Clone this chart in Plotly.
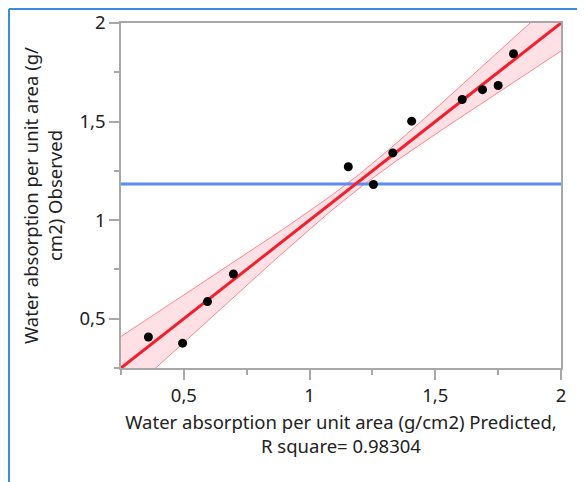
import numpy as np
import plotly.graph_objects as go

predicted = [0.359, 0.495, 0.594, 0.697, 1.154, 1.254, 1.331, 1.406, 1.607, 1.688, 1.750, 1.811]
observed = [0.407, 0.376, 0.587, 0.727, 1.271, 1.181, 1.341, 1.502, 1.612, 1.662, 1.683, 1.844]
tick_vals = [0.5, 1, 1.5, 2]
tick_text = ["0,5", "1", "1,5", "2"]
minor_vals = [0.25, 0.75, 1.25, 1.75]
axis_range = [0.25, 2.0]

# confidence-curve parameters (half-width at mean, asymptotic slope)
band_center_hw = 0.035
band_slope = 0.168

x_mean = float(np.mean(predicted))
y_mean = float(np.mean(observed))

xs = np.linspace(axis_range[0], axis_range[1], 200)
fit = xs.copy()
hw = np.sqrt(band_center_hw ** 2 + band_slope ** 2 * (xs - x_mean) ** 2)
upper = fit + hw
lower = fit - hw

FONT = "Noto Sans"
FS = 18.5
TXT = "#222222"
fig = go.Figure()

fig.add_trace(go.Scatter(x=xs, y=lower, mode="lines",
                         line=dict(color="rgba(255,120,130,0.9)", width=1),
                         hoverinfo="skip", showlegend=False))
fig.add_trace(go.Scatter(x=xs, y=upper, mode="lines", fill="tonexty",
                         fillcolor="rgba(255,0,30,0.12)",
                         line=dict(color="rgba(255,120,130,0.9)", width=1),
                         hoverinfo="skip", showlegend=False))
fig.add_trace(go.Scatter(x=[axis_range[0], axis_range[1]], y=[y_mean, y_mean], mode="lines",
                         line=dict(color="#5B8DEF", width=3), showlegend=False))
fig.add_trace(go.Scatter(x=xs, y=fit, mode="lines",
                         line=dict(color="#F0202E", width=3), showlegend=False))
fig.add_trace(go.Scatter(x=predicted, y=observed, mode="markers",
                         marker=dict(color="black", size=9), showlegend=False))

axis_common = dict(
    range=axis_range, showgrid=False, zeroline=False,
    showline=True, linecolor="#A8A8A8", linewidth=1.5, mirror=True,
    ticks="outside", ticklen=10, tickcolor="#A8A8A8", tickwidth=1.5,
    tickvals=tick_vals, ticktext=tick_text,
    tickfont=dict(family=FONT, size=FS, color=TXT),
    minor=dict(tickvals=minor_vals, ticks="outside", ticklen=5,
               tickcolor="#A8A8A8", tickwidth=1.5, showgrid=False),
    automargin=False,
)

fig.update_xaxes(**axis_common,
                 title=dict(text="Water absorption per unit area (g/cm2) Predicted,<br>R square= 0.98304",
                            font=dict(family=FONT, size=FS, color=TXT), standoff=10))
fig.update_yaxes(**axis_common,
                 title=dict(text="Water absorption per unit area (g/<br>cm2) Observed",
                            font=dict(family=FONT, size=FS, color=TXT), standoff=12))

# page has an ~8px body offset; compensate so the plot area lands at 121..561 x 23..368
OFF = 8
W, H = 585 - OFF, 482 - OFF
L, R, T, B = 121 - OFF, 24, 23 - OFF, 114
pw, ph = W - L - R, H - T - B

def px(x):
    return (x - OFF - L) / pw

def py(y):
    return (H - B - (y - OFF)) / ph

# outer blue frame (as close to the page edge as the offset allows)
blue = "#3C8DDA"
fig.add_shape(type="line", xref="paper", yref="paper",
              x0=px(9), x1=px(585), y0=py(9), y1=py(9), line=dict(color=blue, width=2))
fig.add_shape(type="line", xref="paper", yref="paper",
              x0=px(9), x1=px(9), y0=py(9), y1=py(482), line=dict(color=blue, width=2))

fig.update_layout(
    width=W, height=H,
    margin=dict(l=L, r=R, t=T, b=B),
    paper_bgcolor="white", plot_bgcolor="white",
    font=dict(family=FONT),
)

fig.write_html("out.html")
